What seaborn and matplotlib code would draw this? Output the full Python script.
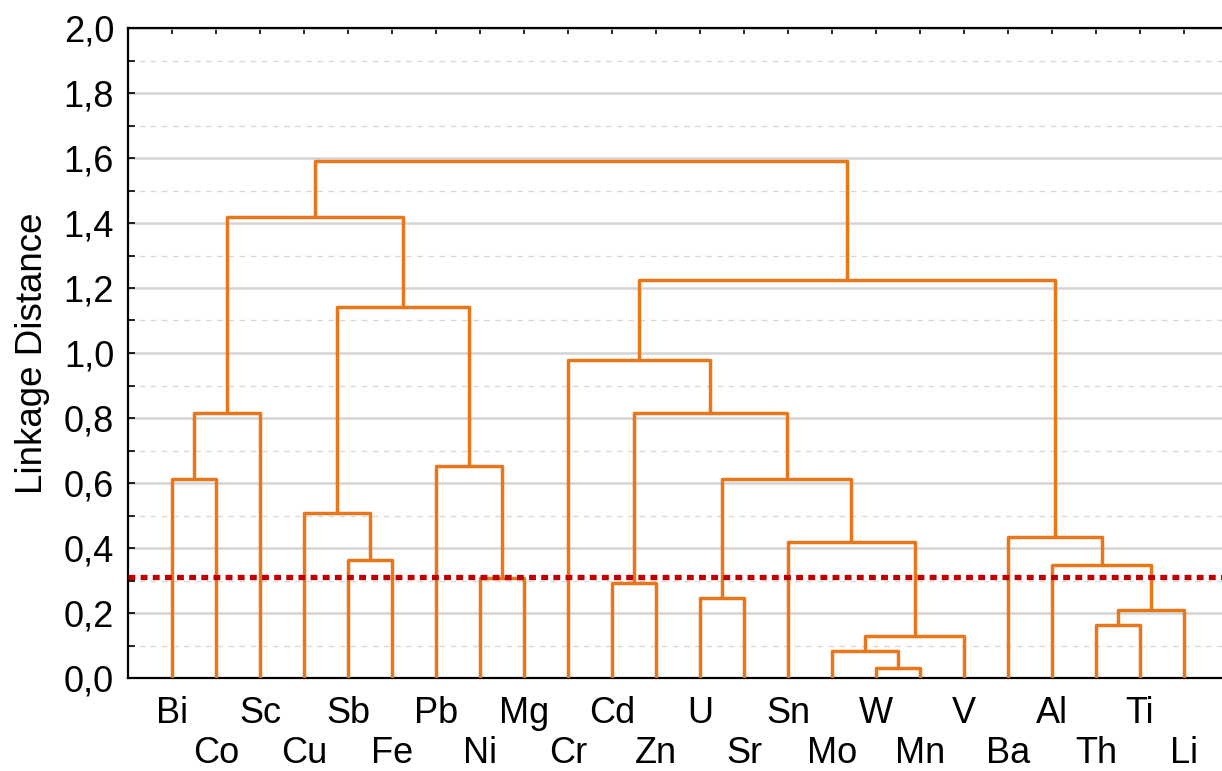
import matplotlib
matplotlib.use("Agg")
import matplotlib.pyplot as plt
from matplotlib.ticker import MultipleLocator, FuncFormatter
import numpy as np
import pandas as pd
import seaborn as sns

# leaf order as shown on the x axis
leaves = ["Bi", "Co", "Sc", "Cu", "Sb", "Fe", "Pb", "Ni", "Mg", "Cr", "Cd", "Zn",
          "U", "Sr", "Sn", "Mo", "W", "Mn", "V", "Ba", "Al", "Th", "Ti", "Li"]

# merges: left / right child (leaf name or index of an earlier merge) and height
merge_left = ["W", "Mo", 1, "Th", 3, "U", "Cd", "Ni", "Al", "Sb", "Sn", "Ba",
              "Cu", "Bi", 5, "Pb", 13, 6, "Cr", 12, 18, 16, 21]
merge_right = ["Mn", 0, "V", "Ti", "Li", "Sr", "Zn", "Mg", 4, "Fe", 2, 8,
               9, "Co", 10, 7, "Sc", 14, 17, 15, 11, 19, 20]
merge_height = [0.031, 0.084, 0.129, 0.164, 0.209, 0.247, 0.291, 0.307, 0.347, 0.362,
                0.419, 0.435, 0.507, 0.611, 0.613, 0.653, 0.815, 0.815, 0.98, 1.1425,
                1.2246, 1.4175, 1.591]

cutoff = 0.31

# layout of the tree: leaves at 1..n, internal nodes at the middle of their children
leaf_x = {name: i + 1 for i, name in enumerate(leaves)}
node_x, node_h = [], []
rows = []


def pos(child):
    if isinstance(child, str):
        return leaf_x[child], 0.0
    return node_x[child], node_h[child]


for k, (a, b, h) in enumerate(zip(merge_left, merge_right, merge_height)):
    xa, ha = pos(a)
    xb, hb = pos(b)
    for i, (px, py) in enumerate([(xa, ha), (xa, h), (xb, h), (xb, hb)]):
        rows.append({"link": k, "step": i, "x": px, "y": py})
    node_x.append((xa + xb) / 2)
    node_h.append(h)

links = pd.DataFrame(rows)

sns.set_theme(style="white")
plt.rcParams["font.family"] = ["Liberation Sans", "DejaVu Sans"]
plt.rcParams["text.color"] = "black"
plt.rcParams["xtick.labelcolor"] = "black"
plt.rcParams["ytick.labelcolor"] = "black"
plt.rcParams["axes.labelcolor"] = "black"

fig = plt.figure(figsize=(12.22, 7.71), dpi=100)
ax = fig.add_axes([128 / 1222, 93 / 771, 1100 / 1222, 650 / 771])

sns.lineplot(data=links, x="x", y="y", units="link", estimator=None, sort=False,
             color="#E8771C", linewidth=2.5, ax=ax, zorder=3)
ax.axhline(cutoff, color="#C00000", linewidth=3.8, dashes=(1.3, 1.0), zorder=4)

ax.set_xlim(0, 25)
ax.set_ylim(0, 2.0)

ax.yaxis.set_major_locator(MultipleLocator(0.2))
ax.yaxis.set_minor_locator(MultipleLocator(0.1))
ax.yaxis.set_major_formatter(FuncFormatter(lambda v, p: f"{v:.1f}".replace(".", ",")))
ax.grid(True, which="major", axis="y", color="#d4d4d4", linewidth=1.8, zorder=0)
ax.grid(True, which="minor", axis="y", color="#d9d9d9", linewidth=1.0,
        linestyle=(0, (4, 4)), zorder=0)
ax.grid(False, axis="x")
ax.set_axisbelow(True)

ax.set_xticks(list(leaf_x.values()))
ax.set_xticklabels(leaves)
ax.tick_params(axis="x", which="both", direction="in", length=4, width=1.2,
               color="black", top=True, bottom=True, labelsize=26)
ax.tick_params(axis="y", which="both", direction="in", length=5, width=1.2,
               color="black", left=True, right=False, labelsize=26, pad=10)
for i, t in enumerate(ax.xaxis.get_major_ticks()):
    t.set_pad(13 if i % 2 == 0 else 42)

for side in ["left", "top", "bottom"]:
    ax.spines[side].set_visible(True)
    ax.spines[side].set_color("black")
    ax.spines[side].set_linewidth(1.6)
ax.spines["right"].set_visible(False)

ax.set_xlabel("")
ax.set_ylabel("Linkage Distance", fontsize=26.5, labelpad=10)

fig.savefig("out.png", dpi=100)
